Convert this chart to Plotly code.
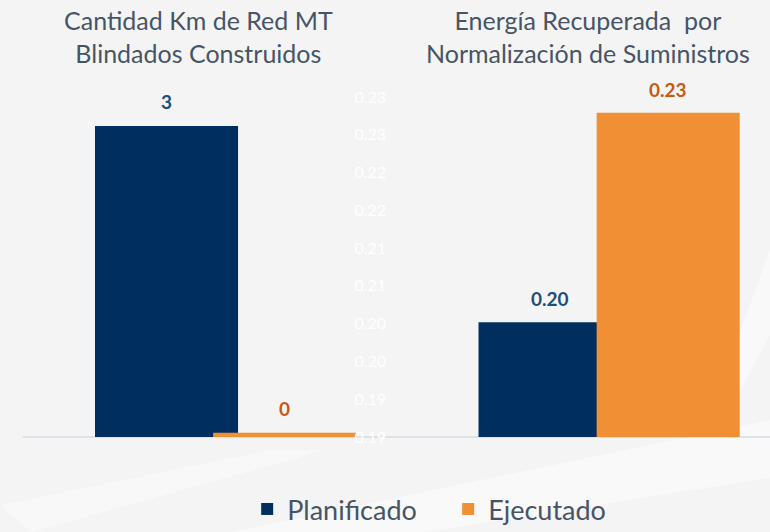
import plotly.graph_objects as go

# data
categorias = ["Km Red MT", "Energía"]
titulos = ["Cantidad Km de Red MT<br>Blindados Construidos",
           "Energía Recuperada  por<br>Normalización de Suministros"]
series = ["Planificado", "Ejecutado"]
km_red = [3, 0.04]          # planificado, ejecutado
energia = [0.2002, 0.2279]  # planificado, ejecutado
tick_energia = [0.185, 0.19, 0.195, 0.20, 0.205, 0.21, 0.215, 0.22, 0.225, 0.23]
tick_texto = ["0.19", "0.19", "0.20", "0.20", "0.21", "0.21", "0.22", "0.22", "0.23", "0.23"]

NAVY = "#002f5f"
ORANGE = "#f08f33"
LBL_NAVY = "#1f4e79"
LBL_ORANGE = "#c55a11"
TITLE_C = "#475466"
FONT = "Lato"

bar_w = 0.373
offsets = [-0.339, -0.031]
colors = [NAVY, ORANGE]
lbl_colors = [LBL_NAVY, LBL_ORANGE]

fig = go.Figure()
annots = []
for i, name in enumerate(series):
    # left chart (primary y)
    fig.add_trace(go.Bar(
        x=[categorias[0]], y=[km_red[i]], name=name, legendgroup=name,
        marker=dict(color=colors[i], line=dict(width=0)),
        width=bar_w, offset=offsets[i], yaxis="y"))
    # right chart (secondary y)
    fig.add_trace(go.Bar(
        x=[categorias[1]], y=[energia[i]], name=name, legendgroup=name,
        showlegend=False,
        marker=dict(color=colors[i], line=dict(width=0)),
        width=bar_w, offset=offsets[i], yaxis="y2"))
    annots.append(dict(x=0 + offsets[i] + bar_w / 2, y=km_red[i], yref="y",
                       text="<b>%d</b>" % round(km_red[i]), showarrow=False,
                       yanchor="bottom", yshift=11,
                       font=dict(family=FONT, size=19, color=lbl_colors[i])))
    annots.append(dict(x=1 + offsets[i] + bar_w / 2, y=energia[i], yref="y2",
                       text="<b>%.2f</b>" % energia[i], showarrow=False,
                       yanchor="bottom", yshift=10,
                       font=dict(family=FONT, size=19, color=lbl_colors[i])))

for xt, t in zip([0.258, 0.764], titulos):
    annots.append(dict(x=xt, y=1.177, xref="paper", yref="paper", text=t,
                       showarrow=False, xanchor="center", yanchor="middle",
                       font=dict(family=FONT, size=25, color=TITLE_C)))

# soft background swooshes
shapes = [
    dict(type="path", xref="paper", yref="paper", layer="below",
         path="M 0.3 -0.28 L 1.0 0.05 L 1.0 -0.12 L 0.55 -0.28 Z",
         fillcolor="rgba(255,255,255,0.45)", line=dict(width=0)),
    dict(type="path", xref="paper", yref="paper", layer="below",
         path="M 0.0 -0.2 L 0.35 -0.04 L 0.42 -0.04 L 0.04 -0.28 Z",
         fillcolor="rgba(255,255,255,0.4)", line=dict(width=0)),
    dict(type="path", xref="paper", yref="paper", layer="below",
         path="M 0.93 0.0 L 1.0 0.3 L 1.0 0.55 L 0.96 0.3 Z",
         fillcolor="rgba(255,255,255,0.45)", line=dict(width=0)),
    dict(type="line", xref="paper", yref="paper", x0=0.03, x1=1.0, y0=0, y1=0,
         line=dict(color="#dde3ea", width=2), layer="below"),
]

fig.update_layout(
    width=770, height=532,
    margin=dict(l=0, r=0, t=97, b=95, autoexpand=False),
    paper_bgcolor="#f4f4f4",
    plot_bgcolor="rgba(0,0,0,0)",
    barmode="overlay",
    font=dict(family=FONT, color=TITLE_C),
    xaxis=dict(type="category", range=[-0.5867, 1.421], showticklabels=False,
               showgrid=False, zeroline=False, showline=False),
    yaxis=dict(range=[0, 3.28], visible=False, showgrid=False),
    yaxis2=dict(range=[0.185, 0.23], overlaying="y", anchor="free", side="right",
                position=0.459, tickvals=tick_energia, ticktext=tick_texto,
                showgrid=False, zeroline=False, showline=False, ticks="",
                tickfont=dict(family=FONT, size=16, color="white")),
    legend=dict(orientation="h", x=0.321, xanchor="left", y=-0.213, yanchor="middle",
                font=dict(family=FONT, size=27, color=TITLE_C),
                entrywidth=156, entrywidthmode="pixels",
                bgcolor="rgba(0,0,0,0)", traceorder="normal"),
    annotations=annots,
    shapes=shapes,
)

fig.write_html("out.html", config={"displayModeBar": False},
               post_script="document.body.style.margin='0';document.body.style.background='#f4f4f4';")
